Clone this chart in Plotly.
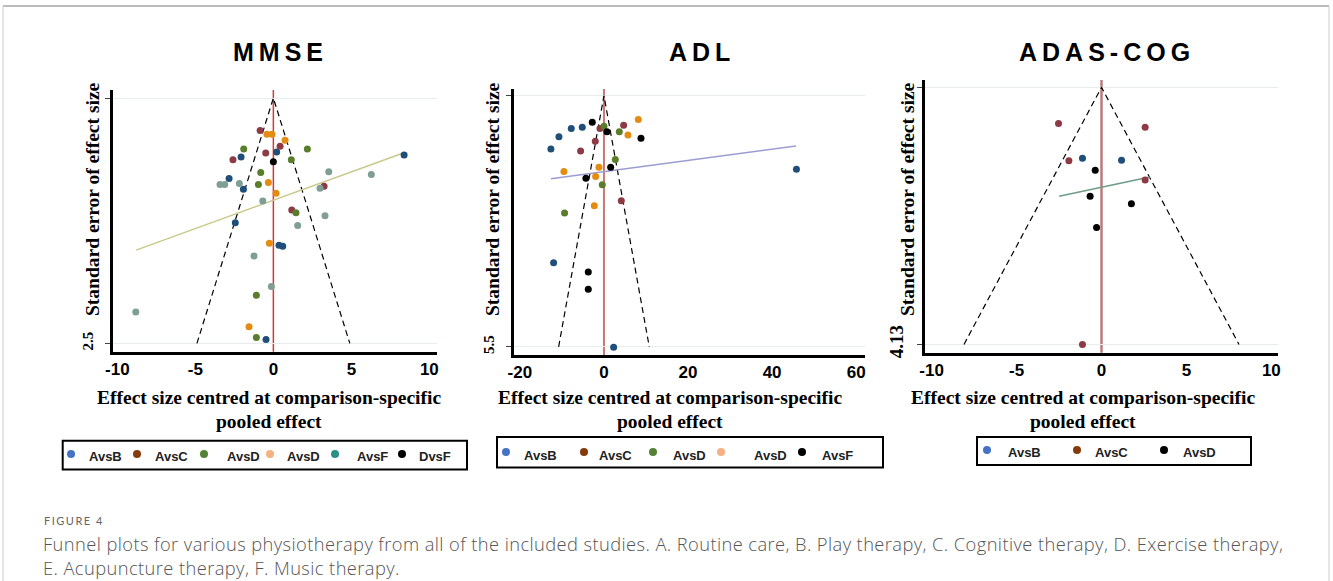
import plotly.graph_objects as go

W, H = 1333, 581


def px(x):
    return x / W


def py(y):
    return 1 - y / H


# ---------------- DATA ----------------
# MMSE panel: effect size (centred) and standard error per comparison
mmse_avsb_x = [0.21, -2.07, 8.38, -2.84, -1.92, -2.44, 0.36, 0.60, -0.47]
mmse_avsb_se = [0.55, 0.60, 0.58, 0.82, 0.93, 1.27, 1.50, 1.51, 2.46]
mmse_avsc_x = [-0.85, 0.43, -0.49, -2.59, 3.25, 1.18]
mmse_avsc_se = [0.33, 0.49, 0.56, 0.63, 0.90, 1.14]
mmse_avsd_x = [-1.90, 2.18, 1.15, -0.81, -0.96, 1.45, -1.09, -1.09]
mmse_avsd_se = [0.52, 0.52, 0.63, 0.76, 0.88, 1.17, 2.01, 2.44]
mmse_avsd2_x = [-0.41, -0.09, 0.75, -0.32, 0.17, -0.26, -1.56]
mmse_avsd2_se = [0.37, 0.37, 0.43, 0.86, 0.97, 1.48, 2.33]
mmse_avsf_x = [3.55, 6.28, -3.42, -3.12, -2.18, 2.99, -0.68, 3.31, 1.56, -1.24, -0.13, -8.82]
mmse_avsf_se = [0.75, 0.78, 0.88, 0.88, 0.87, 0.92, 1.05, 1.20, 1.30, 1.61, 1.92, 2.18]
mmse_dvsf_x = [0.0]
mmse_dvsf_se = [0.65]
mmse_fit_x = [-8.80, 8.33]
mmse_fit_se = [1.55, 0.56]
mmse_se_max = 2.5

# ADL panel
adl_avsb_x = [-7.78, -5.16, -10.71, -12.62, 45.79, -11.98, 2.30]
adl_avsb_se = [0.72, 0.69, 0.90, 1.17, 1.61, 3.66, 5.51]
adl_avsc_x = [4.68, -0.95, -2.06, -5.56, 4.13]
adl_avsc_se = [0.65, 0.72, 1.00, 1.21, 2.30]
adl_avsd_x = [0.0, 3.65, 2.70, -0.40, -9.37]
adl_avsd_se = [0.67, 0.79, 1.40, 1.95, 2.57]
adl_avsd2_x = [8.17, 5.71, -1.19, -9.52, -1.98, -2.30]
adl_avsd2_se = [0.52, 0.86, 1.57, 1.66, 1.77, 2.41]
adl_avsf_x = [-2.78, 0.71, 8.81, 1.59, -4.29, -3.73, -3.73]
adl_avsf_se = [0.58, 0.79, 0.93, 1.57, 1.81, 3.86, 4.24]
adl_fit_x = [-12.62, 45.71]
adl_fit_se = [1.82, 1.10]
adl_se_max = 5.5

# ADAS-COG panel
adas_avsb_x = [-1.12, 1.18]
adas_avsb_se = [1.14, 1.17]
adas_avsc_x = [-2.53, 2.57, -1.92, 2.57, -1.12]
adas_avsc_se = [0.58, 0.64, 1.18, 1.49, 4.13]
adas_avsd_x = [-0.37, -0.67, 1.76, -0.29]
adas_avsd_se = [1.33, 1.75, 1.87, 2.25]
adas_fit_x = [-2.49, 2.84]
adas_fit_se = [1.75, 1.44]
adas_se_max = 4.13

x_ticks_mmse = [-10, -5, 0, 5, 10]
x_ticks_adl = [-20, 0, 20, 40, 60]
x_ticks_adas = [-10, -5, 0, 5, 10]

legend_mmse = ["AvsB", "AvsC", "AvsD", "AvsD", "AvsF", "DvsF"]
legend_adl = ["AvsB", "AvsC", "AvsD", "AvsD", "AvsF"]
legend_adas = ["AvsB", "AvsC", "AvsD"]

panel_titles = ["MMSE", "ADL", "ADAS-COG"]
y_title = "Standard error of effect size"
x_title_1 = "Effect size centred at comparison-specific"
x_title_2 = "pooled effect"
caption_label = "FIGURE 4"
caption_1 = ("Funnel plots for various physiotherapy from all of the included studies. "
             "A. Routine care, B. Play therapy, C. Cognitive therapy, D. Exercise therapy,")
caption_2 = "E. Acupuncture therapy, F. Music therapy."

# ---------------- STYLE ----------------
NAVY, MAROON, GREEN, ORANGE, TEAL, BLACK = "#1f4e79", "#8d3a45", "#5a7d2c", "#e48c12", "#7f9f94", "#000000"
LEG_BLUE, LEG_BROWN, LEG_GREEN, LEG_PEACH, LEG_TEAL, LEG_BLACK = (
    "#4472c4", "#843c0c", "#548235", "#f4b183", "#2a9087", "#000000")

SERIF = "Liberation Serif"
SANS = "Liberation Sans"
SERIF_SIZE = 19.5

panels = [
    dict(xa="x", ya="y", xdom=(112.7, 436.7), ydom=(90, 351.7), xr=(-10.3, 10.47),
         yr=(2.585, -0.082), se_max=mmse_se_max, xticks=x_ticks_mmse,
         series=[(mmse_avsb_x, mmse_avsb_se, NAVY), (mmse_avsc_x, mmse_avsc_se, MAROON),
                 (mmse_avsd_x, mmse_avsd_se, GREEN), (mmse_avsd2_x, mmse_avsd2_se, ORANGE),
                 (mmse_avsf_x, mmse_avsf_se, TEAL), (mmse_dvsf_x, mmse_dvsf_se, BLACK)],
         fit=(mmse_fit_x, mmse_fit_se, "#c9c98c"), zero_col="#d23a3a", zero_w=1.5,
         title=panel_titles[0], title_x=280, ytitle_x=92, xtitle_x=269, ytick_size=15,
         leg_names=legend_mmse,
         leg_cols=[LEG_BLUE, LEG_BROWN, LEG_GREEN, LEG_PEACH, LEG_TEAL, LEG_BLACK],
         leg_box=(62.7, 440.7, 467, 469.6), leg_dot_x=[71, 137, 204, 270, 335, 402],
         leg_txt_x=[87, 153, 225, 285, 355, 417], leg_dot_y=454, leg_txt_y=456),
    dict(xa="x2", ya="y2", xdom=(514, 865), ydom=(89, 355), xr=(-21.4, 62.1),
         yr=(5.68, -0.146), se_max=adl_se_max, xticks=x_ticks_adl,
         series=[(adl_avsb_x, adl_avsb_se, NAVY), (adl_avsc_x, adl_avsc_se, MAROON),
                 (adl_avsd_x, adl_avsd_se, GREEN), (adl_avsd2_x, adl_avsd2_se, ORANGE),
                 (adl_avsf_x, adl_avsf_se, BLACK)],
         fit=(adl_fit_x, adl_fit_se, "#9c9cd4"), zero_col="#c97878", zero_w=2,
         title=panel_titles[1], title_x=702, ytitle_x=492, xtitle_x=670, ytick_size=15,
         leg_names=legend_adl,
         leg_cols=[LEG_BLUE, LEG_BROWN, LEG_GREEN, LEG_PEACH, LEG_BLACK],
         leg_box=(497, 437, 883, 467.6), leg_dot_x=[506, 584, 653, 721, 802],
         leg_txt_x=[522, 597, 671, 752, 820], leg_dot_y=452, leg_txt_y=455),
    dict(xa="x3", ya="y3", xdom=(925, 1278), ydom=(80, 352.7), xr=(-10.39, 10.39),
         yr=(4.263, -0.118), se_max=adas_se_max, xticks=x_ticks_adas,
         series=[(adas_avsb_x, adas_avsb_se, NAVY), (adas_avsc_x, adas_avsc_se, MAROON),
                 (adas_avsd_x, adas_avsd_se, BLACK)],
         fit=(adas_fit_x, adas_fit_se, "#6e9c86"), zero_col="#b97b7b", zero_w=2.5,
         title=panel_titles[2], title_x=1107, ytitle_x=907, xtitle_x=1083, ytick_size=19,
         leg_names=legend_adas,
         leg_cols=[LEG_BLUE, LEG_BROWN, LEG_BLACK],
         leg_box=(977, 437, 1251, 465), leg_dot_x=[987, 1077, 1164],
         leg_txt_x=[1006, 1093, 1181], leg_dot_y=450, leg_txt_y=452),
]

fig = go.Figure()
layout = dict(width=W, height=H, autosize=False,
              margin=dict(l=0, r=0, t=0, b=0, pad=0, autoexpand=False),
              paper_bgcolor="white", plot_bgcolor="white", showlegend=False)
annotations = []
shapes = []

for i, p in enumerate(panels):
    xa, ya = p["xa"], p["ya"]
    m = p["se_max"]
    # funnel (pseudo 95% limits)
    fig.add_trace(go.Scatter(x=[-1.96 * m, 0, 1.96 * m], y=[m, 0, m], mode="lines",
                             line=dict(color="black", width=1.2, dash="6px,4px"),
                             xaxis=xa, yaxis=ya, hoverinfo="skip"))
    # fitted line
    fx, fse, fcol = p["fit"]
    fig.add_trace(go.Scatter(x=fx, y=fse, mode="lines", line=dict(color=fcol, width=1.5),
                             xaxis=xa, yaxis=ya, hoverinfo="skip"))
    # zero line
    shapes.append(dict(type="line", xref=xa, yref=f"{ya} domain", x0=0, x1=0, y0=0, y1=1,
                       line=dict(color=p["zero_col"], width=p["zero_w"]), layer="below"))
    # study points
    for (sx, sse, col), name in zip(p["series"], p["leg_names"]):
        fig.add_trace(go.Scatter(x=sx, y=sse, mode="markers", name=name,
                                 marker=dict(color=col, size=7, line=dict(width=0)),
                                 xaxis=xa, yaxis=ya))

    sfx = "" if i == 0 else str(i + 1)
    layout["xaxis" + sfx] = dict(
        domain=[px(p["xdom"][0]), px(p["xdom"][1])], anchor=ya, range=list(p["xr"]),
        tickvals=p["xticks"], ticktext=[str(v) for v in p["xticks"]],
        ticks="", showgrid=False, zeroline=False, automargin=False,
        showline=True, linecolor="black", linewidth=3,
        tickfont=dict(family=SANS, size=17, color="black", weight="bold"))
    layout["yaxis" + sfx] = dict(
        domain=[py(p["ydom"][1]), py(p["ydom"][0])], anchor=xa, range=list(p["yr"]),
        tickvals=[0, m], ticktext=["", f"{m:g}"], tickangle=-90, automargin=False,
        ticks="outside", ticklen=5, tickwidth=1, tickcolor="#444", ticklabelstandoff=6,
        showgrid=True, gridcolor="#e6eded", gridwidth=1.2, zeroline=False,
        showline=True, linecolor="black", linewidth=3,
        tickfont=dict(family=SERIF, size=p["ytick_size"], color="black", weight="bold"))

    # legend box (drawn by hand to match the reference layout)
    bx0, by0, bx1, by1 = p["leg_box"]
    shapes.append(dict(type="rect", xref="paper", yref="paper", x0=px(bx0), x1=px(bx1),
                       y0=py(by1), y1=py(by0), line=dict(color="black", width=2),
                       fillcolor="white", layer="below"))
    for name, col, dx, tx in zip(p["leg_names"], p["leg_cols"], p["leg_dot_x"], p["leg_txt_x"]):
        shapes.append(dict(type="circle", xref="paper", yref="paper",
                           xsizemode="pixel", ysizemode="pixel",
                           xanchor=px(dx), yanchor=py(p["leg_dot_y"]),
                           x0=-4, x1=4, y0=-4, y1=4, fillcolor=col, line=dict(width=0)))
        annotations.append(dict(text=name, x=px(tx), y=py(p["leg_txt_y"]), xref="paper",
                                yref="paper", showarrow=False, xanchor="left",
                                yanchor="middle",
                                font=dict(family=SANS, size=13, color="#222", weight="bold")))

    # panel title (letter-spaced)
    annotations.append(dict(text='<span style="letter-spacing:5px">' + p["title"] + "</span>",
                            x=px(p["title_x"]), y=py(52), xref="paper",
                            yref="paper", showarrow=False, xanchor="center", yanchor="middle",
                            font=dict(family=SANS, size=25, color="black", weight="bold")))
    # y title
    annotations.append(dict(text=y_title, x=px(p["ytitle_x"]), y=py(199), xref="paper",
                            yref="paper", showarrow=False, textangle=-90,
                            xanchor="center", yanchor="middle",
                            font=dict(family=SERIF, size=SERIF_SIZE, color="black", weight="bold")))
    # x title (two lines)
    for txt, yy in ((x_title_1, 397), (x_title_2, 421)):
        annotations.append(dict(text=txt, x=px(p["xtitle_x"]), y=py(yy), xref="paper",
                                yref="paper", showarrow=False, xanchor="center",
                                yanchor="middle",
                                font=dict(family=SERIF, size=SERIF_SIZE, color="black",
                                          weight="bold")))

# caption
annotations.append(dict(text='<span style="letter-spacing:1.5px">' + caption_label + "</span>",
                        x=px(42), y=py(520), xref="paper", yref="paper",
                        showarrow=False, xanchor="left", yanchor="middle",
                        font=dict(family="Lato", size=11, color="#666")))
annotations.append(dict(text=('<span style="letter-spacing:0.42px">' + caption_1 + "</span><br>"
                              '<span style="letter-spacing:0.42px">' + caption_2 + "</span>"),
                        x=px(41), y=py(555.5),
                        xref="paper", yref="paper", showarrow=False, xanchor="left",
                        yanchor="middle", align="left",
                        font=dict(family="Open Sans", size=18.3, color="#555", weight=300)))

# page frame
shapes.append(dict(type="line", xref="paper", yref="paper", x0=px(3), x1=px(1329),
                   y0=py(6), y1=py(6), line=dict(color="#bbbbbb", width=2)))
for xx in (3, 1329):
    shapes.append(dict(type="line", xref="paper", yref="paper", x0=px(xx), x1=px(xx),
                       y0=py(6), y1=0, line=dict(color="#cccccc", width=1)))

layout["annotations"] = annotations
layout["shapes"] = shapes
fig.update_layout(**layout)

fig.write_html(
    "out.html",
    config={"displayModeBar": False},
    post_script=("document.documentElement.style.overflow='hidden';"
                 "document.body.style.margin='0';document.body.style.overflow='hidden';"),
)
